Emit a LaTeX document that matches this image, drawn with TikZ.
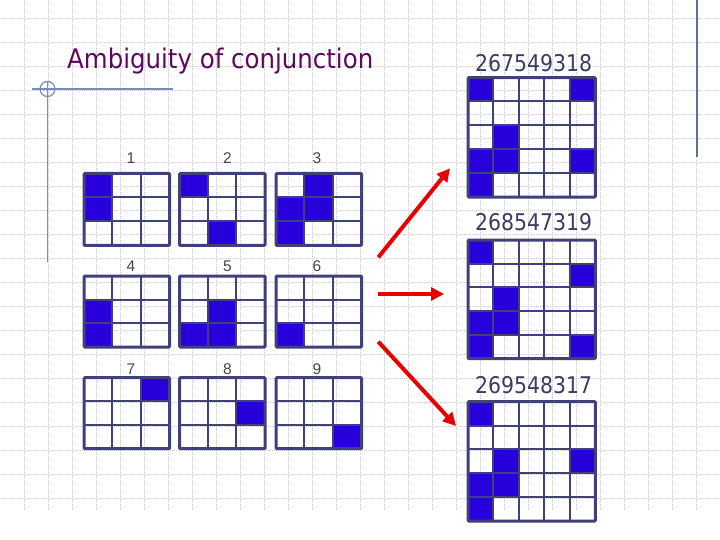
\documentclass[tikz,border=0pt]{standalone}
\usepackage{fontspec}
\setmainfont{DejaVu Sans}
\newfontfamily\lblfont{Liberation Sans}
\usetikzlibrary{arrows.meta}
\definecolor{ttl}{RGB}{94,8,94}
\definecolor{gline}{RGB}{64,64,122}
\definecolor{cellblue}{RGB}{40,0,220}
\definecolor{numc}{RGB}{60,60,100}
\definecolor{lblc}{RGB}{70,70,70}
\definecolor{bgdot}{RGB}{200,200,206}
\definecolor{deco}{RGB}{120,140,185}
\definecolor{arrred}{RGB}{232,0,0}
\tikzset{
  gridframe/.style={draw=gline, line width=3pt, rounded corners=1pt},
  gridinner/.style={draw=gline, line width=2pt},
  bigarrow/.style={draw=arrred, line width=4pt, -{Triangle[length=13pt,width=13pt]}},
  biglabel/.style={text=numc, inner sep=0pt, anchor=base west},
  smalllabel/.style={text=lblc, inner sep=0pt, anchor=base, font=\lblfont\fontsize{15.5}{15.5}\selectfont},
  bgline/.style={draw=bgdot, line width=0.7pt, dash pattern=on 0.9pt off 1.1pt},
  decoline/.style={draw=deco, line width=1.2pt}
}
% name, x, y, width, height, n, fills (col/row)
\newcommand{\cellgrid}[7]{%
  \node[inner sep=0pt, minimum width=#4pt, minimum height=#5pt, anchor=north west] (#1) at (#2,#3) {};
  \foreach \c/\r in {#7} {\fill[cellblue] (#2+\c*#4/#6, #3+\r*#5/#6) rectangle ++(#4/#6, #5/#6);}
  \foreach \i in {1,...,\numexpr#6-1\relax} {
    \draw[gridinner] (#2+\i*#4/#6, #3) -- ++(0, #5);
    \draw[gridinner] (#2, #3+\i*#5/#6) -- ++(#4, 0);
  }
  \draw[gridframe] (#1.north west) rectangle (#1.south east);
}
\begin{document}
\begin{tikzpicture}[x=1pt,y=-1pt]
\useasboundingbox (0,0) rectangle (720,540);
\fill[white] (0,0) rectangle (720,540);
% background dotted grid
\foreach \k in {0,...,20} {\draw[bgline] (0,18.3+24*\k) -- (720,18.3+24*\k);}
\foreach \k in {1,...,29} {\draw[bgline] (24*\k+0.7,0) -- (24*\k+0.7,510);}
% decorations
\draw[decoline] (32,89) -- (173,89);
\draw[decoline] (47.5,82) -- (47.5,262);
\draw[decoline] (47.5,89) circle (7.5);
\draw[draw=deco!80!black, line width=1.2pt] (697,0) -- (697,157);
% title
\node[text=ttl, inner sep=0pt, anchor=base west] (title) at (67,68.5)
  {\resizebox{306pt}{\height}{\fontsize{27}{27}\selectfont Ambiguity of conjunction}};
% small labels
\node[smalllabel] (l1) at (131,164) {1};
\node[smalllabel] (l2) at (227.5,164) {2};
\node[smalllabel] (l3) at (317,164) {3};
\node[smalllabel] (l4) at (131,271.7) {4};
\node[smalllabel] (l5) at (227.5,271.7) {5};
\node[smalllabel] (l6) at (317,271.7) {6};
\node[smalllabel] (l7) at (131,374) {7};
\node[smalllabel] (l8) at (227.5,374) {8};
\node[smalllabel] (l9) at (317,374) {9};
% small grids
\cellgrid{g1}{84}{173.5}{85.3}{71.5}{3}{0/0,0/1}
\cellgrid{g2}{179.5}{173.5}{85.3}{71.5}{3}{0/0,1/2}
\cellgrid{g3}{276}{173.5}{85.3}{71.5}{3}{1/0,0/1,1/1,0/2}
\cellgrid{g4}{84}{276}{85.3}{70.7}{3}{0/1,0/2}
\cellgrid{g5}{179.5}{276}{85.3}{70.7}{3}{1/1,0/2,1/2}
\cellgrid{g6}{276}{276}{85.3}{70.7}{3}{0/2}
\cellgrid{g7}{84}{377.7}{85.3}{70.6}{3}{2/0}
\cellgrid{g8}{179.5}{377.7}{85.3}{70.6}{3}{2/1}
\cellgrid{g9}{276}{377.7}{85.3}{70.6}{3}{2/2}
% big labels
\node[biglabel] (na) at (475,71.7) {\resizebox{117pt}{\height}{\fontsize{23}{23}\selectfont 267549318}};
\node[biglabel] (nb) at (475,230.7) {\resizebox{117pt}{\height}{\fontsize{23}{23}\selectfont 268547319}};
\node[biglabel] (nc) at (475,393.3) {\resizebox{117pt}{\height}{\fontsize{23}{23}\selectfont 269548317}};
% big grids
\cellgrid{ga}{468}{77.7}{127}{119}{5}{0/0,4/0,1/2,0/3,1/3,4/3,0/4}
\cellgrid{gb}{468}{240}{127}{118.3}{5}{0/0,4/1,1/2,0/3,1/3,0/4,4/4}
\cellgrid{gc}{468}{401.7}{127}{119}{5}{0/0,1/2,4/2,0/3,1/3,0/4}
% arrows
\coordinate (a1s) at (378.3,257.3);
\coordinate (a1e) at (450,168.3);
\coordinate (a2s) at (378.3,294);
\coordinate (a2e) at (444,294);
\coordinate (a3s) at (378.3,341.7);
\coordinate (a3e) at (456,426);
\draw[bigarrow] (a1s) -- (a1e);
\draw[bigarrow] (a2s) -- (a2e);
\draw[bigarrow] (a3s) -- (a3e);
\end{tikzpicture}
\end{document}
